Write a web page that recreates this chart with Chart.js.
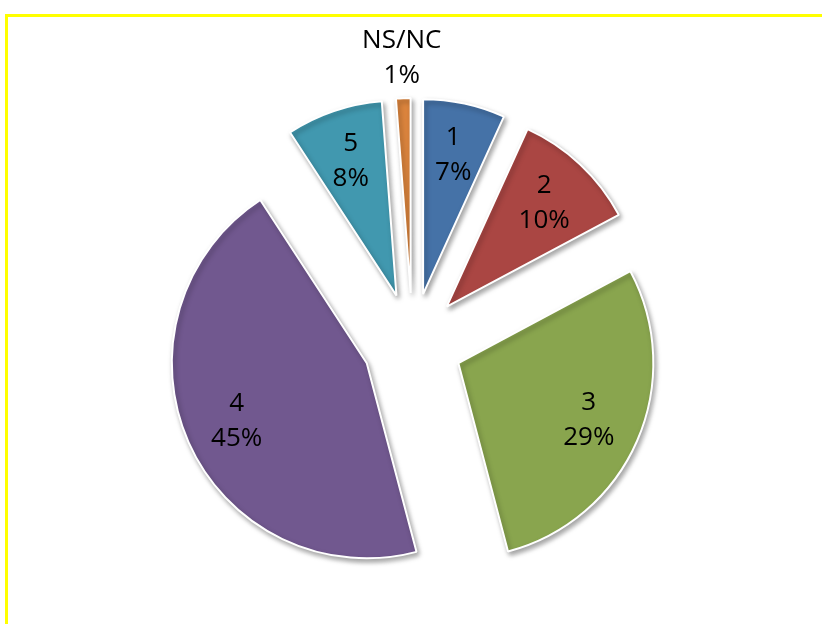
<!DOCTYPE html>
<html>
<head>
<meta charset="utf-8">
<script src="https://cdn.jsdelivr.net/npm/chart.js@4"></script>
<style>
  body { margin: 0; background: #fff; }
  #wrap { position: relative; width: 822px; height: 624px; overflow: hidden; }
  #frame {
    position: absolute; left: 5px; top: 14px; right: -10px; bottom: -10px;
    border-top: 3px solid #ffff00; border-left: 3px solid #ffff00;
  }
  canvas { position: absolute; left: 0; top: 0; }
</style>
</head>
<body>
<div id="wrap">
  <div id="frame"></div>
  <canvas id="myChart" width="822" height="624"></canvas>
</div>
<script>
// Data
const answers = ["1", "2", "3", "4", "5", "NS/NC"];
const shares = [6.8, 10.4, 28.7, 44.9, 8.0, 1.2];
const sliceColors = ["#4572A7", "#AA4643", "#89A54E", "#71588F", "#4198AF", "#DB843D"];

const PULL = 50; // how far every slice is pulled out of the pie, px

// pull every slice out along its middle angle (chart.js offset narrows thin slices too much)
const explode = {
  id: "explode",
  beforeDatasetDraw(chart, args) {
    const area = chart.chartArea;
    const cx = (area.left + area.right) / 2;
    const cy = (area.top + area.bottom) / 2;
    args.meta.data.forEach(arc => {
      const mid = (arc.startAngle + arc.endAngle) / 2;
      arc.x = cx + Math.cos(mid) * PULL;
      arc.y = cy + Math.sin(mid) * PULL;
    });
    const ctx = chart.ctx;
    ctx.save();
    ctx.shadowColor = "rgba(0,0,0,0.35)";
    ctx.shadowBlur = 5;
    ctx.shadowOffsetX = 2;
    ctx.shadowOffsetY = 3;
  },
  afterDatasetDraw(chart) {
    chart.ctx.restore();
  }
};

// labels: category on one line, percent under it
const sliceLabels = {
  id: "sliceLabels",
  afterDatasetsDraw(chart) {
    const ctx = chart.ctx;
    const meta = chart.getDatasetMeta(0);
    const total = shares.reduce((a, b) => a + b, 0);
    ctx.save();
    ctx.font = "26px 'Open Sans'";
    ctx.fillStyle = "#000";
    ctx.textAlign = "center";
    ctx.textBaseline = "middle";
    meta.data.forEach((arc, i) => {
      const mid = (arc.startAngle + arc.endAngle) / 2;
      const pct = shares[i] / total * 100;
      const R = arc.outerRadius;
      const dist = pct < 3 ? R * 1.21 : R * 0.73;
      const x = arc.x + Math.cos(mid) * dist;
      const y = arc.y + Math.sin(mid) * dist;
      ctx.fillText(answers[i], x, y - 17);
      ctx.fillText(Math.round(pct) + "%", x, y + 18);
    });
    ctx.restore();
  }
};

new Chart("myChart", {
  type: "pie",
  data: {
    labels: answers,
    datasets: [{
      data: shares,
      backgroundColor: sliceColors,
      borderColor: "#ffffff",
      borderWidth: 2,
      clip: false
    }]
  },
  options: {
    responsive: false,
    animation: false,
    radius: 195,
    layout: { padding: { left: 3, top: 62 } },
    plugins: {
      legend: { display: false },
      tooltip: { enabled: false }
    }
  },
  plugins: [explode, sliceLabels]
});
</script>
</body>
</html>
